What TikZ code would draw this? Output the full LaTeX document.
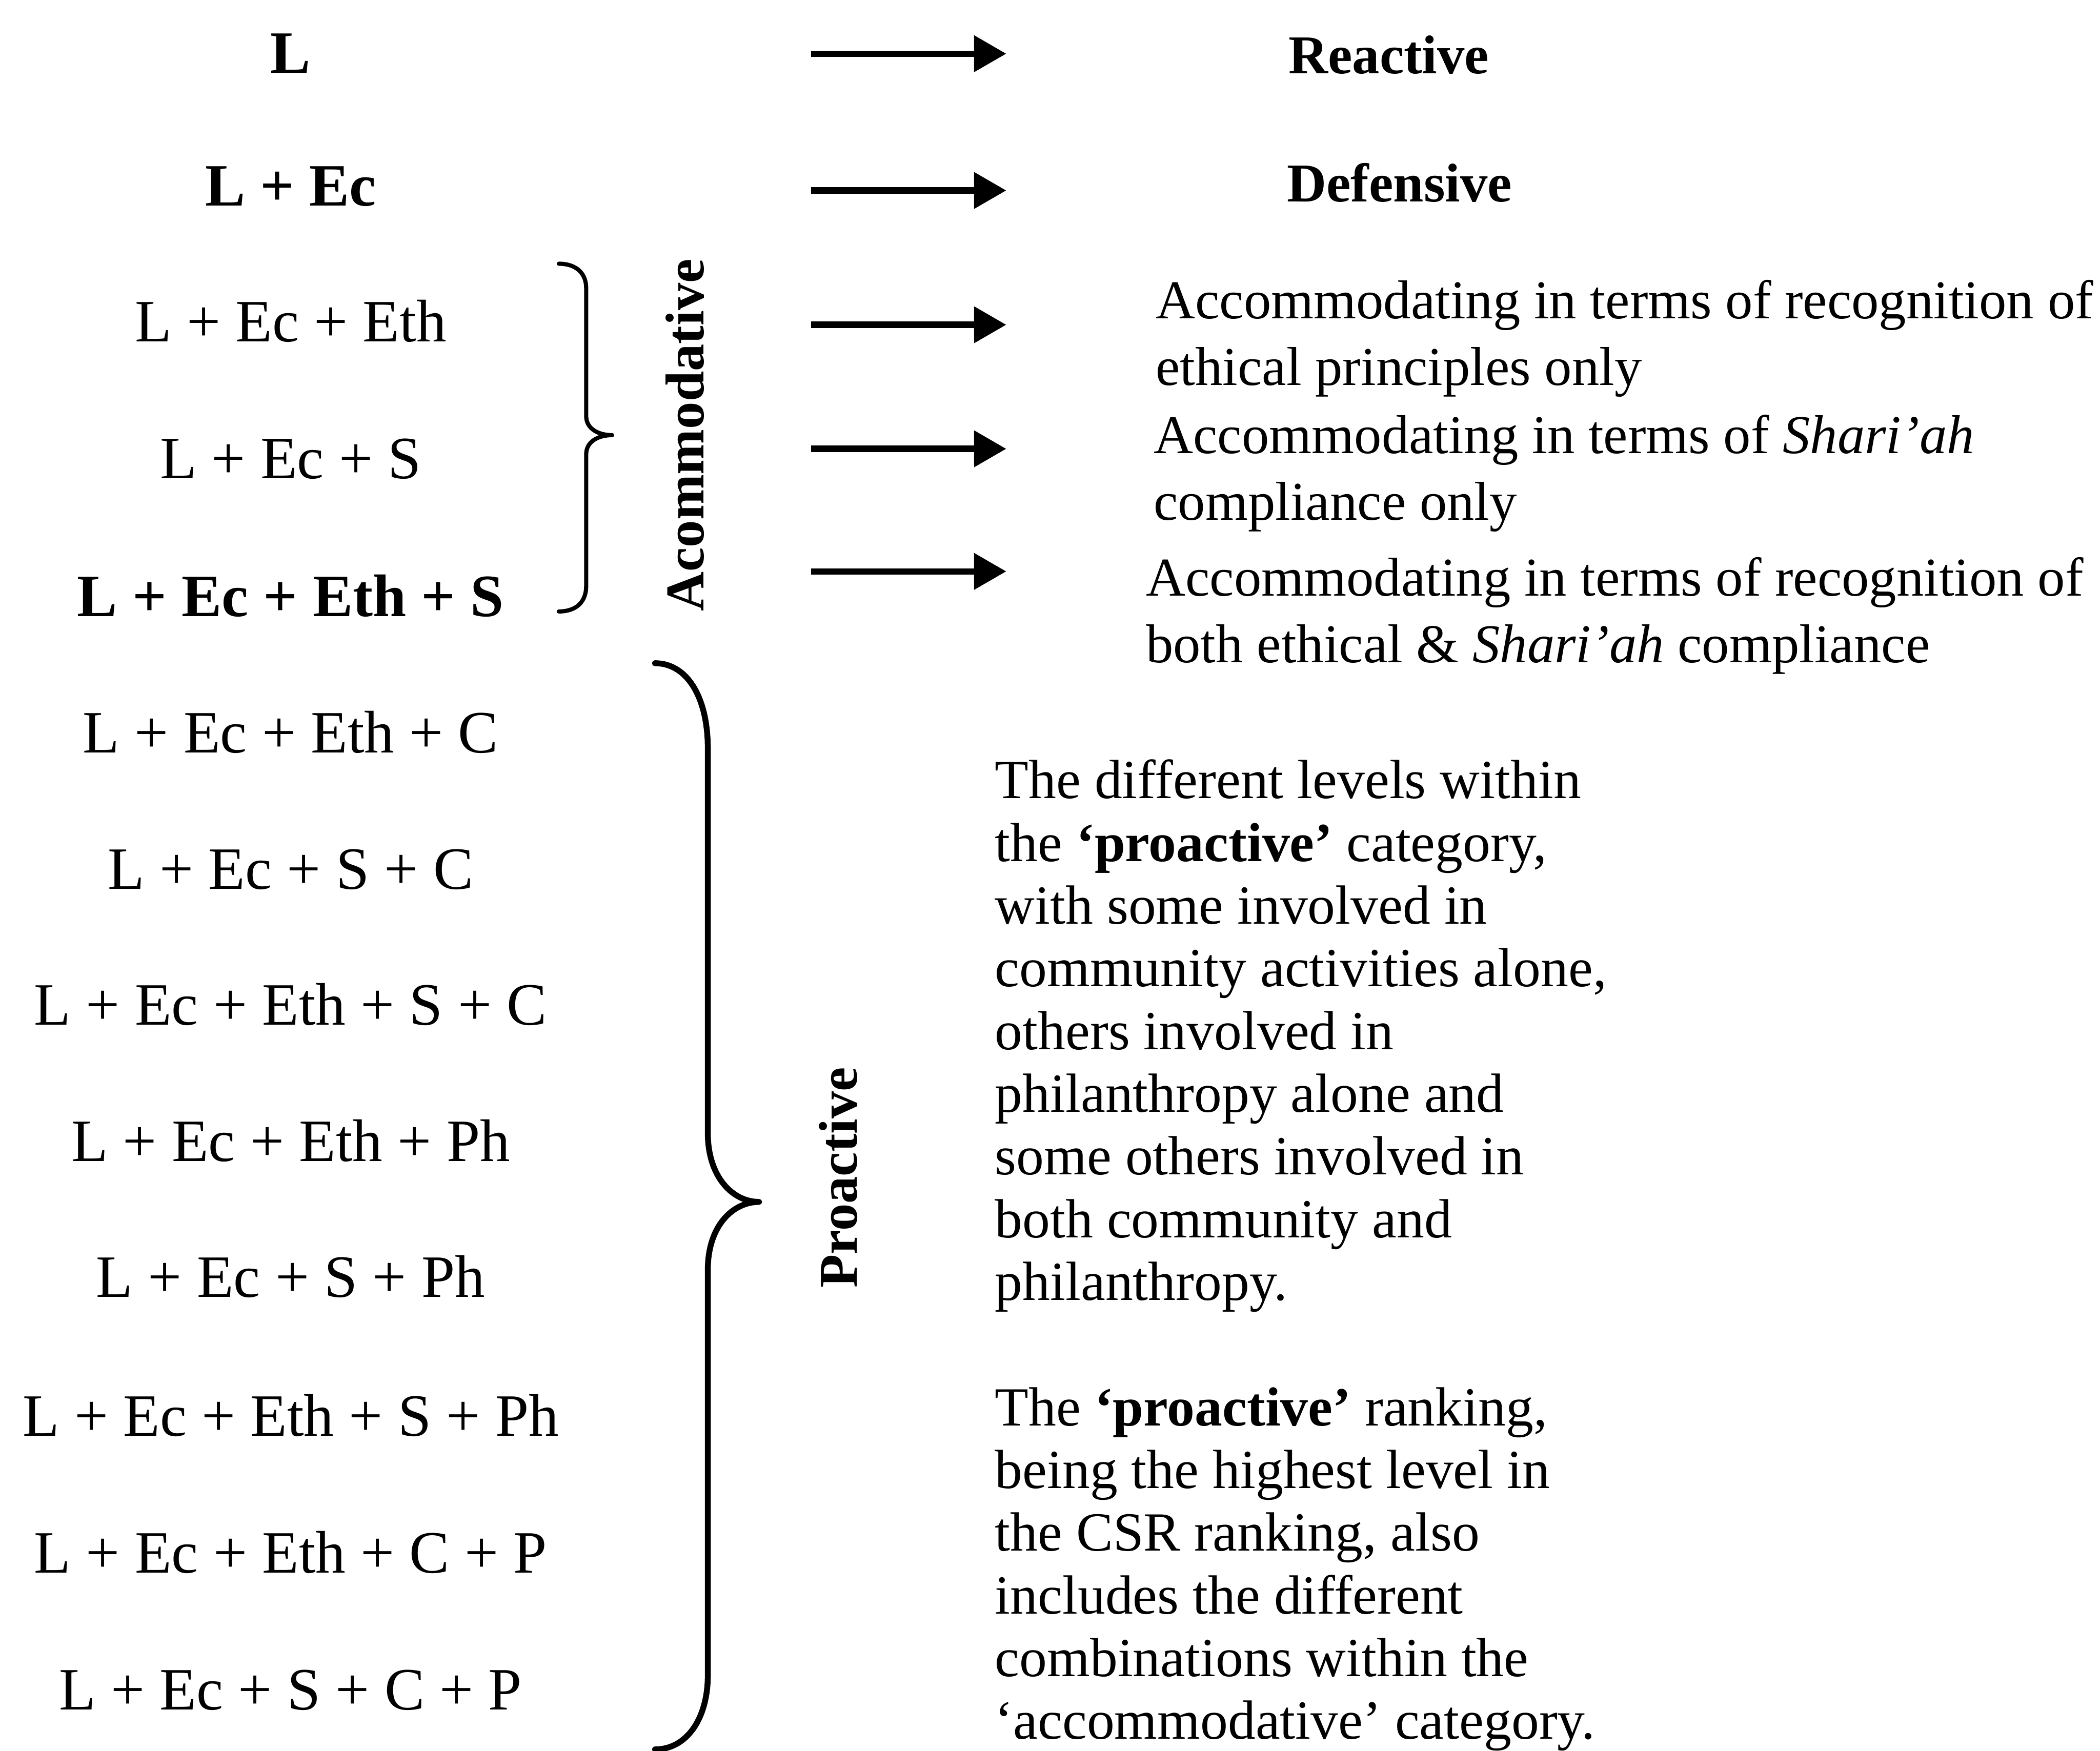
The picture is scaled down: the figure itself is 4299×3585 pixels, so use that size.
\documentclass[tikz,border=0pt]{standalone}
\usepackage{fontspec}
\setmainfont{Liberation Serif}
\usetikzlibrary{arrows.meta}
\begin{document}
\begin{tikzpicture}[x=0.1pt,y=-0.1pt,
  lhs/.style={anchor=base, inner sep=0pt, font=\fontsize{12.3}{14}\selectfont},
  lhsb/.style={lhs, font=\fontsize{12.3}{14}\selectfont\bfseries},
  rhsb/.style={anchor=base, inner sep=0pt, font=\fontsize{11.2}{13.7}\selectfont\bfseries},
  blk/.style={anchor=base west, inner sep=0pt, font=\fontsize{11.2}{13.7}\selectfont},
  para/.style={anchor=base west, inner sep=0pt, font=\fontsize{11.3}{12.84}\selectfont},
  vlabel/.style={rotate=90, inner sep=0pt, font=\fontsize{11.2}{13.7}\selectfont\bfseries},
  arr/.style={-{Triangle[length=6.6pt,width=7.2pt]}, line width=1.3pt},
  bracestyle/.style={line width=0.85pt, line cap=round, line join=round},
  bigbrace/.style={line width=1.2pt, line cap=round, line join=round}]
\useasboundingbox (0,0) rectangle (4299,3585);

% left column
\node[lhsb] (l1)  at (595,150)  {L};
\node[lhsb] (l2)  at (595,421)  {L + Ec};
\node[lhs]  (l3)  at (595,700)  {L + Ec + Eth};
\node[lhs]  (l4)  at (595,980)  {L + Ec + S};
\node[lhsb] (l5)  at (595,1262) {L + Ec + Eth + S};
\node[lhs]  (l6)  at (595,1541) {L + Ec + Eth + C};
\node[lhs]  (l7)  at (595,1820) {L + Ec + S + C};
\node[lhs]  (l8)  at (595,2099) {L + Ec + Eth + S + C};
\node[lhs]  (l9)  at (595,2378) {L + Ec + Eth + Ph};
\node[lhs]  (l10) at (595,2656) {L + Ec + S + Ph};
\node[lhs]  (l11) at (595,2940) {L + Ec + Eth + S + Ph};
\node[lhs]  (l12) at (595,3221) {L + Ec + Eth + C + P};
\node[lhs]  (l13) at (595,3501) {L + Ec + S + C + P};

% braces
\draw[bracestyle] (1144,540) .. controls (1180,540) and (1200,560) .. (1200,590)
  -- (1200,852) .. controls (1200,878) and (1225,891) .. (1253,891)
  .. controls (1225,891) and (1200,904) .. (1200,930)
  -- (1200,1200) .. controls (1200,1232) and (1180,1252) .. (1144,1252);
\draw[bigbrace] (1341,1358) .. controls (1405,1358) and (1449,1425) .. (1449,1533)
  -- (1449,2320) .. controls (1449,2410) and (1500,2461) .. (1554,2461)
  .. controls (1500,2461) and (1449,2510) .. (1449,2600)
  -- (1449,3430) .. controls (1449,3520) and (1405,3582) .. (1341,3582);

% rotated labels
\node[vlabel] (acc) at (1402,891) {Acommodative};
\node[vlabel] (pro) at (1716,2411) {Proactive};

% arrows
\coordinate (a1s) at (1660,110);  \coordinate (a1e) at (2060,110);
\coordinate (a2s) at (1660,390);  \coordinate (a2e) at (2060,390);
\coordinate (a3s) at (1660,665);  \coordinate (a3e) at (2060,665);
\coordinate (a4s) at (1660,919);  \coordinate (a4e) at (2060,919);
\coordinate (a5s) at (1660,1170); \coordinate (a5e) at (2060,1170);
\draw[arr] (a1s) -- (a1e);
\draw[arr] (a2s) -- (a2e);
\draw[arr] (a3s) -- (a3e);
\draw[arr] (a4s) -- (a4e);
\draw[arr] (a5s) -- (a5e);

% right texts
\node[rhsb] (react) at (2843,151) {Reactive};
\node[rhsb] (defen) at (2865,413) {Defensive};
\node[blk] (acc1) at (2364,652) {\begin{tabular}[t]{@{}l@{}}Accommodating in terms of recognition of\\ ethical principles only\end{tabular}};
\node[blk] (acc2) at (2360,928) {\begin{tabular}[t]{@{}l@{}}Accommodating in terms of \textit{Shari’ah}\\ compliance only\end{tabular}};
\node[blk] (acc3) at (2344,1220) {\begin{tabular}[t]{@{}l@{}}Accommodating in terms of recognition of\\ both ethical \& \textit{Shari’ah} compliance\end{tabular}};

\node[para] (desc) at (2035,1635) {\begin{tabular}[t]{@{}l@{}}The different levels within\\
the \textbf{‘proactive’} category,\\
with some involved in\\
community activities alone,\\
others involved in\\
philanthropy alone and\\
some others involved in\\
both community and\\
philanthropy.\\
\\
The \textbf{‘proactive’} ranking,\\
being the highest level in\\
the CSR ranking, also\\
includes the different\\
combinations within the\\
‘accommodative’ category.\end{tabular}};
\end{tikzpicture}
\end{document}
